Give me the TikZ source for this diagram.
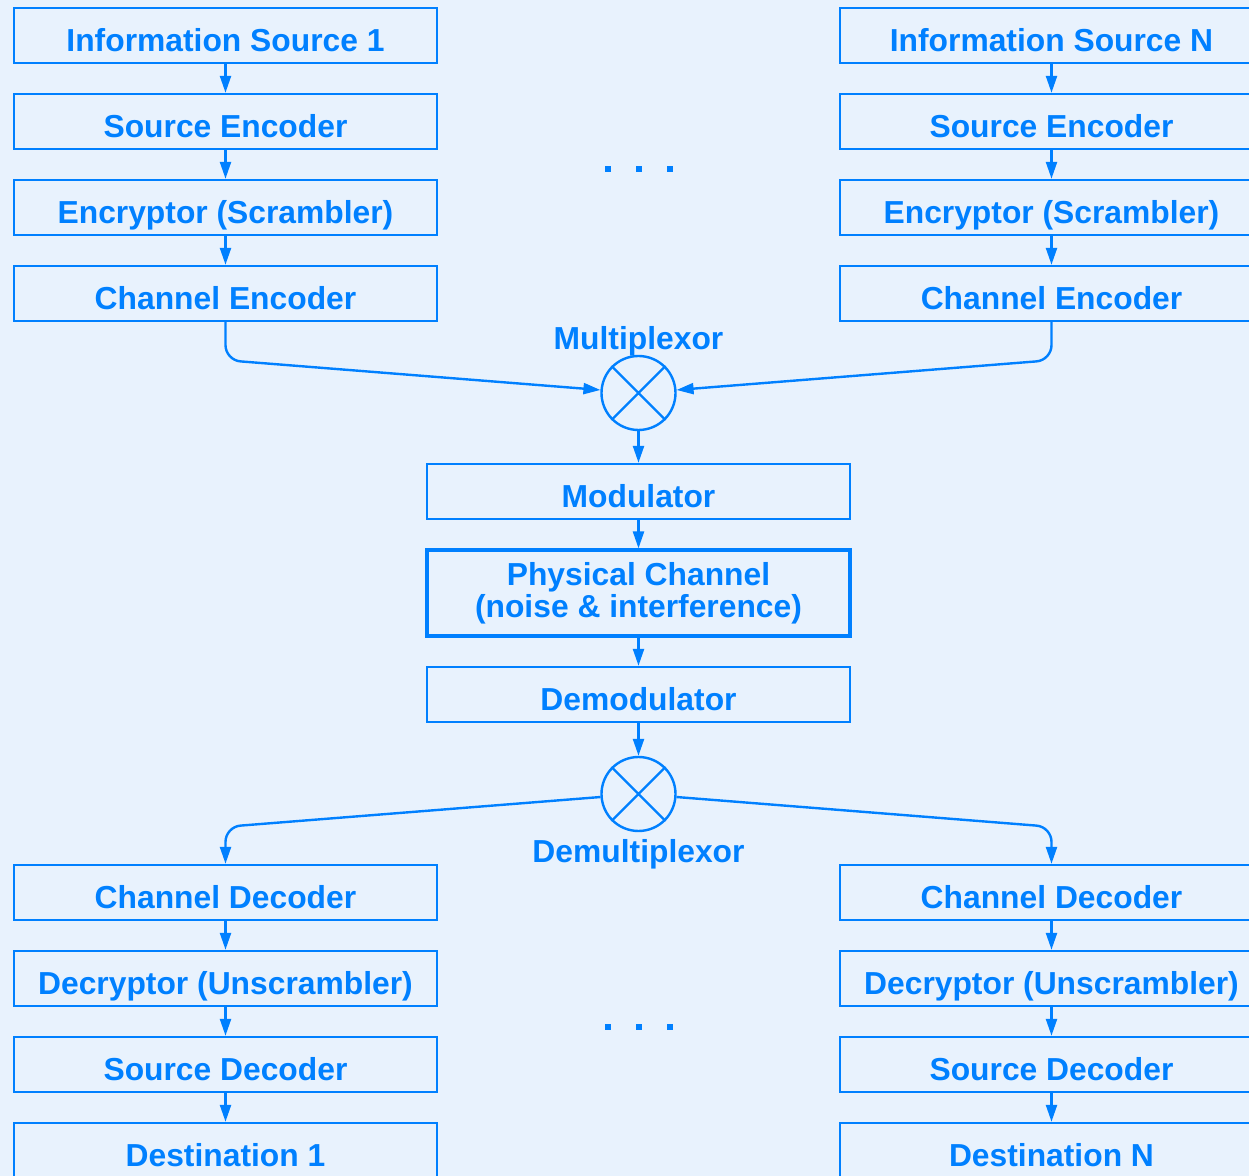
\documentclass[tikz,border=0pt]{standalone}
\usepackage{fontspec}
\setmainfont{Liberation Sans}
\usetikzlibrary{arrows.meta,positioning,calc}
\definecolor{sigblue}{HTML}{0080FF}
\definecolor{bgblue}{HTML}{E8F2FD}
\tikzset{
  box/.style={draw=sigblue, line width=1.2pt, text=sigblue, minimum width=211.5pt,
    minimum height=27.5pt, inner sep=0pt, font=\bfseries\fontsize{15.9}{14.5}\selectfont},
  blk/.style={box, text height=16pt, text depth=0pt},
  mixer/.style={circle, draw=sigblue, line width=1.2pt, minimum size=37pt, inner sep=0pt},
  lbl/.style={text=sigblue, inner sep=0pt, font=\bfseries\fontsize{15.9}{14.5}\selectfont},
  arr/.style={draw=sigblue, line width=1.2pt, -{Triangle[length=8.5pt,width=5.5pt]}}
}

\begin{document}
\begin{tikzpicture}[x=0.5pt,y=-0.5pt]
\fill[bgblue] (0,0) rectangle (1249,1176);
\useasboundingbox (0,0) rectangle (1249,1176);

% transmitter side
\foreach \s/\x in {1/225.5,N/1051.5}
{
\node[blk] (is\s) at (\x,35.5) {Information Source \s};
\node[blk] (se\s) at (\x,121.5) {Source Encoder};
\node[blk] (en\s) at (\x,207.5) {Encryptor (Scrambler)};
\node[blk] (ce\s) at (\x,293.5) {Channel Encoder};
\draw[arr] (is\s) -- (se\s);
\draw[arr] (se\s) -- (en\s);
\draw[arr] (en\s) -- (ce\s);
}

\node[mixer] (mux) at (638.5,393) {};
\draw[sigblue, line width=1.2pt] (mux.45) -- (mux.225) (mux.135) -- (mux.315);
\node[lbl, anchor=base] (muxlbl) at (638.5,350) {Multiplexor};

\node[blk] (mod) at (638.5,491.5) {Modulator};
\node[box, line width=1.6pt, minimum height=43pt, align=center] (phy) at (638.5,593)
  {Physical Channel\\(noise \& interference)};
\node[blk] (dem) at (638.5,694.5) {Demodulator};

\node[mixer] (dmx) at (638.5,794) {};
\draw[sigblue, line width=1.2pt] (dmx.45) -- (dmx.225) (dmx.135) -- (dmx.315);
\node[lbl, anchor=base] (dmxlbl) at (638.5,862) {Demultiplexor};

\draw[arr, rounded corners=7.5pt] (ce1.south) -- ++(0,38) -- (mux);
\draw[arr, rounded corners=7.5pt] (ceN.south) -- ++(0,38) -- (mux);
\draw[arr] (mux) -- (mod);
\draw[arr] (mod) -- (phy);
\draw[arr] (phy) -- (dem);
\draw[arr] (dem) -- (dmx);

% receiver side
\foreach \s/\x in {1/225.5,N/1051.5}
{
\node[blk] (cd\s) at (\x,892.5) {Channel Decoder};
\node[blk] (de\s) at (\x,978.5) {Decryptor (Unscrambler)};
\node[blk] (sd\s) at (\x,1064.5) {Source Decoder};
\node[blk] (ds\s) at (\x,1150.5) {Destination \s};
\draw[arr, rounded corners=7.5pt] (dmx) -- ($(cd\s.north)+(0,-37)$) -- (cd\s.north);
\draw[arr] (cd\s) -- (de\s);
\draw[arr] (de\s) -- (sd\s);
\draw[arr] (sd\s) -- (ds\s);
}

% dots between the two columns
\foreach \x in {607.5,638.5,669.5}
{
\fill[sigblue] (\x-3,166.5) rectangle +(6,6);
\fill[sigblue] (\x-3,1023.5) rectangle +(6,6);
}
\end{tikzpicture}
\end{document}
